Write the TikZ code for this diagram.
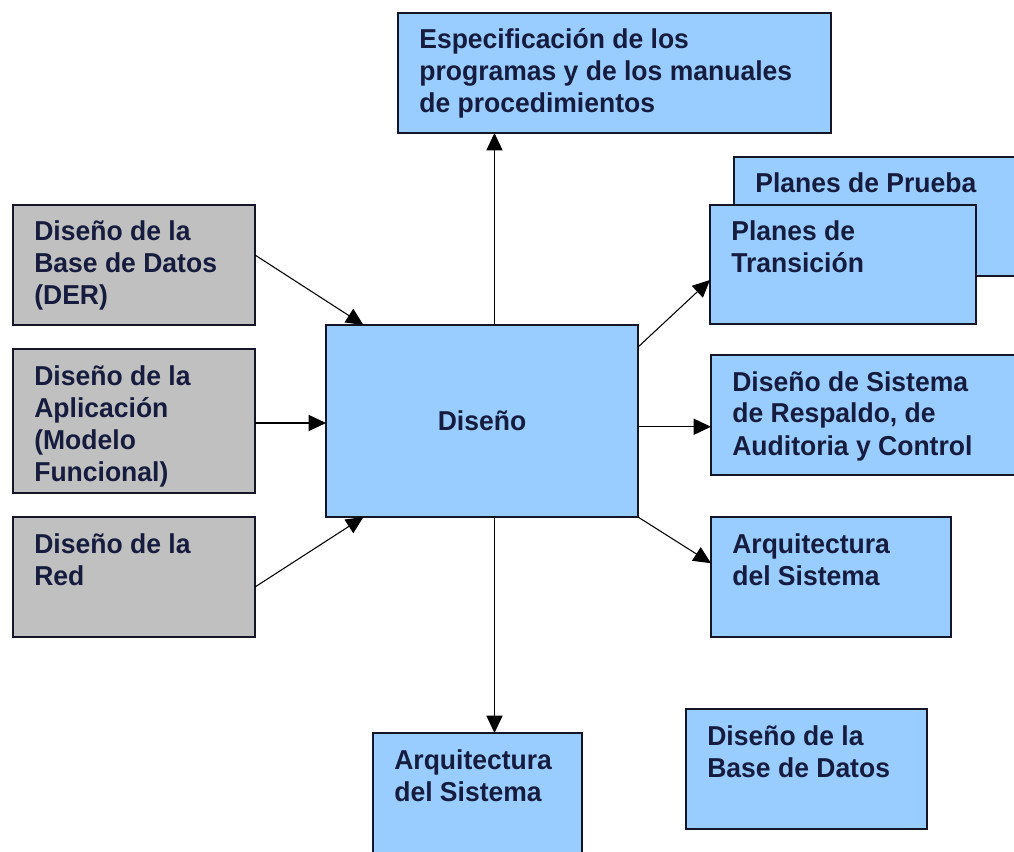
\documentclass[tikz,border=0pt]{standalone}
\usepackage{fontspec}
\setmainfont{Liberation Sans}[FakeStretch=0.97]
\usetikzlibrary{arrows.meta,calc}
\definecolor{boxblue}{RGB}{153,204,255}
\definecolor{boxgray}{RGB}{192,192,192}
\definecolor{boxline}{RGB}{20,22,40}
\definecolor{txt}{RGB}{22,28,62}
\begin{document}
\begin{tikzpicture}[x=0.75pt,y=-0.75pt,
  box/.style={draw=boxline, line width=1.2pt, anchor=north west, inner sep=0pt, outer sep=0pt},
  bluebox/.style={box, fill=boxblue},
  graybox/.style={box, fill=boxgray},
  txtfont/.style={text=txt, font=\fontsize{20.5pt}{24pt}\selectfont\bfseries},
  lbl/.style={txtfont, anchor=north west, inner sep=0pt, outer sep=0pt, align=left},
  arr/.style={-{Triangle[length=13pt,width=12pt]}, line width=1.1pt, draw=black},
  diag/.style={arr, line width=0.8pt}]
\useasboundingbox (0,0) rectangle (1014,852);
\clip (0,0) rectangle (1014,852);
\fill[white] (0,0) rectangle (1014,852);

% boxes
\node[bluebox, minimum width=324.75pt, minimum height=90pt] (top) at (398,13) {};
\node[bluebox, minimum width=225pt, minimum height=89.25pt] (pru) at (734,157) {};
\node[bluebox, minimum width=199.5pt, minimum height=89.25pt] (tra) at (710,205) {};
\node[graybox, minimum width=181.5pt, minimum height=90pt] (g1) at (13,205) {};
\node[graybox, minimum width=181.5pt, minimum height=108pt] (g2) at (13,349) {};
\node[graybox, minimum width=181.5pt, minimum height=90pt] (g3) at (13,517) {};
\node[bluebox, txtfont, minimum width=234pt, minimum height=144pt] (dis) at (326,325) {Diseño};
\node[bluebox, minimum width=240pt, minimum height=90pt] (sis) at (711,355) {};
\node[bluebox, minimum width=180pt, minimum height=90pt] (arq1) at (711,517) {};
\node[bluebox, minimum width=156.75pt, minimum height=105pt] (arq2) at (373,733) {};
\node[bluebox, minimum width=180.75pt, minimum height=90pt] (bd) at (686,709) {};

% texts
\node[lbl] (ttop) at ([xshift=16pt,yshift=-9pt]top.north west) {\rule{0pt}{18pt}Especificación de los\\programas y de los manuales\\de procedimientos};
\node[lbl] (tpru) at ([xshift=16pt,yshift=-9pt]pru.north west) {\rule{0pt}{18pt}Planes de Prueba};
\node[lbl] (ttra) at ([xshift=16pt,yshift=-9pt]tra.north west) {\rule{0pt}{18pt}Planes de\\Transición};
\node[lbl] (tg1) at ([xshift=16pt,yshift=-9pt]g1.north west) {\rule{0pt}{18pt}Diseño de la\\Base de Datos\\(DER)};
\node[lbl] (tg2) at ([xshift=16pt,yshift=-9pt]g2.north west) {\rule{0pt}{18pt}Diseño de la\\Aplicación\\(Modelo\\Funcional)};
\node[lbl] (tg3) at ([xshift=16pt,yshift=-9pt]g3.north west) {\rule{0pt}{18pt}Diseño de la\\Red};
\node[lbl] (tsis) at ([xshift=16pt,yshift=-9pt]sis.north west) {\rule{0pt}{18pt}Diseño de Sistema\\de Respaldo, de\\Auditoria y Control};
\node[lbl] (tarq1) at ([xshift=16pt,yshift=-9pt]arq1.north west) {\rule{0pt}{18pt}Arquitectura\\del Sistema};
\node[lbl] (tarq2) at ([xshift=16pt,yshift=-9pt]arq2.north west) {\rule{0pt}{18pt}Arquitectura\\del Sistema};
\node[lbl] (tbd) at ([xshift=16pt,yshift=-9pt]bd.north west) {\rule{0pt}{18pt}Diseño de la\\Base de Datos};

% connectors
\coordinate (vt) at ($(dis.north west)!0.54!(dis.north east)$);
\coordinate (vb) at ($(dis.south west)!0.54!(dis.south east)$);
\draw[arr] (vt) -- (vt |- top.south);
\draw[arr] (vb) -- (vb |- arq2.north);
\draw[diag] ([yshift=7.5pt]g1.east) -- ($(dis.north west)!0.12!(dis.north east)$);
\draw[arr] ([yshift=-1.5pt]g2.east) -- ([yshift=-1.5pt]g2.east -| dis.west);
\draw[diag] ([yshift=-7.5pt]g3.east) -- ($(dis.south west)!0.12!(dis.south east)$);
\draw[diag] ($(dis.north east)!0.115!(dis.south east)$) -- ($(tra.north west)!0.63!(tra.south west)$);
\coordinate (ps) at ($(dis.north east)!0.53!(dis.south east)$);
\draw[arr] (ps) -- (ps -| sis.west);
\draw[diag] (dis.south east) -- ($(arq1.north west)!0.385!(arq1.south west)$);
\end{tikzpicture}
\end{document}
